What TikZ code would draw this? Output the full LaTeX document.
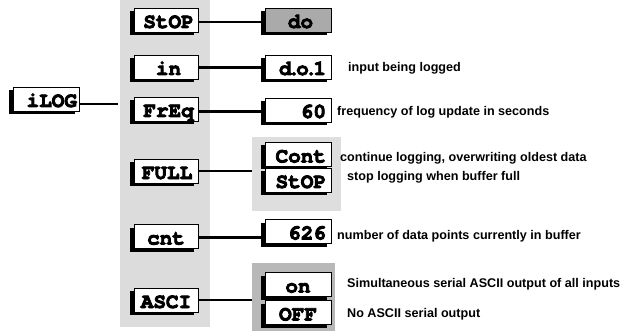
\documentclass[tikz,border=0pt]{standalone}
\usepackage{fontspec}
\setmainfont{Liberation Sans}
\newfontfamily\boxfont[FakeBold=4]{texgyrecursor-bold.otf}
\usetikzlibrary{shadows,calc}
\definecolor{panelgray}{HTML}{DCDCDC}
\definecolor{subgray}{HTML}{DEDEDE}
\definecolor{darkpanel}{HTML}{B8B8B8}
\definecolor{dofill}{HTML}{AAAAAA}
\tikzset{
  disp/.style={draw=black, line width=0.8pt, fill=white, minimum height=24pt,
    inner ysep=0pt, text height=16.5pt, text depth=0.5pt,
    font=\boxfont\fontsize{21}{21}\selectfont,
    drop shadow={shadow xshift=-4pt, shadow yshift=-3pt, fill=black, opacity=1}},
  lbox/.style={disp, minimum width=64pt, inner xsep=2pt, text width=60pt, align=center},
  rbox/.style={disp, minimum width=66pt, inner xsep=5pt, text width=56pt, align=right},
  cbox/.style={disp, minimum width=66pt, inner xsep=2pt, text width=62pt, align=center},
  panel/.style={draw=none, inner sep=0pt},
  lbl/.style={anchor=west, inner sep=0pt, font=\fontsize{12.6}{12.6}\selectfont\bfseries},
  conn/.style={line width=2.5pt},
  thinconn/.style={line width=1.2pt}
}
\begin{document}
\begin{tikzpicture}[x=1pt,y=-1pt]
\useasboundingbox (0,0) rectangle (626,331);
% panels
\node[panel, fill=panelgray, minimum width=90pt, minimum height=327pt] (mainpanel) at (165,163.5) {};
\node[panel, fill=subgray, minimum width=89pt, minimum height=74pt] (fullpanel) at (296.5,174) {};
\node[panel, fill=darkpanel, minimum width=83pt, minimum height=68pt] (ascipanel) at (293.5,297) {};
% root
\node[disp, minimum width=66pt, inner xsep=2pt, text width=62pt, align=right] (ilog) at (46,99) {iLOG};
% left column
\node[lbox] (lstop) at (166,20) {\hspace*{5pt}StOP};
\node[lbox] (lin) at (166,67) {\hspace*{5pt}in};
\node[lbox] (lfreq) at (166,109) {\hspace*{5pt}FrEq};
\node[lbox] (lfull) at (166,171) {\hspace*{2pt}FULL};
\node[lbox] (lcnt) at (166,236.5) {cnt};
\node[lbox] (lasci) at (166,300) {ASCI};
% right column
\node[cbox, fill=dofill] (rdo) at (298,20) {\hspace*{5pt}do};
\node[rbox] (rdol) at (298,67) {d\kern-4pt.\kern-4pt o\kern-4pt.\kern-4pt 1};
\node[rbox] (rsixty) at (298,110) {60};
\node[rbox] (rcont) at (298,154.5) {Cont};
\node[rbox] (rstop) at (298,180) {StOP};
\node[rbox] (r626) at (298,231.5) {626};
\node[cbox] (ron) at (298,284.5) {on};
\node[cbox] (roff) at (298,312.5) {OFF};
% connectors
\coordinate (ilogend) at (118,104);
\draw[thinconn] ($(ilog.east)+(0,5)$) -- (ilogend);
\draw[conn] ($(lstop.east)+(0,2)$) -- ($(lstop.east -| rdo.west)+(-4,2)$);
\draw[conn] ($(lin.east)+(0,0.5)$) -- ($(lin.east -| rdol.west)+(-4,0.5)$);
\draw[conn] ($(lfreq.east)+(0,2.5)$) -- ($(lfreq.east -| rsixty.west)+(-4,2.5)$);
\draw[conn] (lfull.east) -- (lfull.east -| fullpanel.west);
\draw[conn] ($(lcnt.east)+(0,1)$) -- ($(lcnt.east -| r626.west)+(-4,1)$);
\draw[conn] (lasci.east) -- (lasci.east -| ascipanel.west);
% labels
\node[lbl] (tin) at (348,68) {input being logged};
\node[lbl] (tfreq) at (337,112) {frequency of log update in seconds};
\node[lbl] (tcont) at (340,158) {continue logging, overwriting oldest data};
\node[lbl] (tstop) at (347,177) {stop logging when buffer full};
\node[lbl] (tcnt) at (337,236) {number of data points currently in buffer};
\node[lbl] (ton) at (347,284) {Simultaneous serial ASCII output of all inputs};
\node[lbl] (toff) at (347,314) {No ASCII serial output};
\end{tikzpicture}
\end{document}
